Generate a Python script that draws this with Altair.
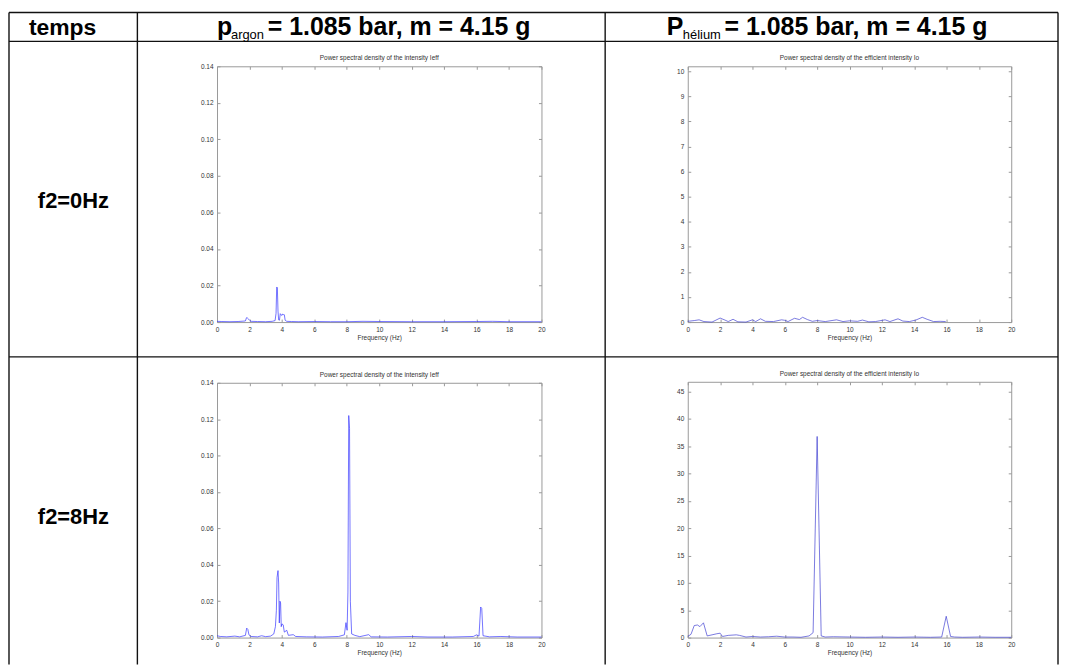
import altair as alt
import pandas as pd

# ------------------------------------------------------------------ data
# argon, f2 = 0 Hz
AR0_F = [0, 0.3, 0.8, 1.3, 1.75, 1.82, 1.88, 1.95, 2.02, 2.1, 2.5, 3.0, 3.4, 3.58, 3.64,
         3.68, 3.72, 3.76, 3.8, 3.85, 3.9, 3.95, 4.0, 4.05, 4.1, 4.15, 4.2, 4.3, 4.6, 5.0,
         6.0, 7.0, 8.0, 9.0, 10.0, 12.0, 14.0, 16.0, 17.0, 18.0, 20.0]
AR0_P = [0.0004, 0.0003, 0.0002, 0.0003, 0.0006, 0.0024, 0.0022, 0.0016, 0.0009, 0.0004,
         0.0003, 0.0002, 0.0004, 0.0008, 0.0048, 0.0192, 0.0188, 0.0060, 0.0012, 0.0010,
         0.0046, 0.0040, 0.0036, 0.0044, 0.0041, 0.0040, 0.0010, 0.0004, 0.0003, 0.0002,
         0.0003, 0.0002, 0.0002, 0.0004, 0.0003, 0.0002, 0.0002, 0.0003, 0.0004, 0.0002, 0.0002]

# argon, f2 = 8 Hz
AR8_F = [0, 0.2, 0.6, 1.1, 1.4, 1.75, 1.83, 1.9, 1.97, 2.1, 2.5, 2.75, 3.0, 3.3, 3.5, 3.6,
         3.66, 3.7, 3.76, 3.8, 3.84, 3.88, 3.92, 3.96, 4.0, 4.08, 4.15, 4.3, 4.4, 4.7, 4.85,
         5.5, 6.5, 7.5, 7.85, 7.95, 8.02, 8.07, 8.12, 8.17, 8.22, 8.3, 8.5, 8.8, 9.35, 9.5,
         10.5, 12.0, 13.0, 14.5, 15.8, 16.0, 16.15, 16.25, 16.32, 16.4, 16.8, 17.5, 18.5, 20.0]
AR8_P = [0.0010, 0.0006, 0.0004, 0.0008, 0.0004, 0.0012, 0.0052, 0.0045, 0.0015, 0.0006,
         0.0004, 0.0010, 0.0005, 0.0008, 0.0020, 0.0060, 0.0150, 0.0330, 0.0368, 0.0300,
         0.0080, 0.0200, 0.0190, 0.0060, 0.0075, 0.0070, 0.0030, 0.0040, 0.0012, 0.0016,
         0.0006, 0.0004, 0.0003, 0.0006, 0.0015, 0.0082, 0.0040, 0.0250, 0.1220, 0.1150,
         0.0200, 0.0020, 0.0012, 0.0005, 0.0016, 0.0004, 0.0003, 0.0006, 0.0003, 0.0003,
         0.0006, 0.0015, 0.0008, 0.0168, 0.0160, 0.0010, 0.0004, 0.0006, 0.0003, 0.0003]

# helium, f2 = 0 Hz
HE0_F = [0, 0.4, 0.7, 1.0, 1.5, 2.0, 2.3, 2.5, 2.8, 3.1, 3.6, 4.0, 4.2, 4.5, 4.8, 5.3, 5.8,
         6.0, 6.2, 6.6, 6.9, 7.1, 7.4, 7.7, 8.0, 8.5, 9.2, 9.6, 10.0, 10.5, 10.8, 11.2, 11.6,
         12.2, 12.5, 13.0, 13.3, 13.7, 14.1, 14.5, 14.8, 15.2, 15.6, 15.95]
HE0_P = [0.03, 0.06, 0.09, 0.02, 0.00, 0.16, 0.08, 0.02, 0.11, 0.01, 0.00, 0.09, 0.02, 0.13,
         0.03, 0.02, 0.09, 0.07, 0.02, 0.15, 0.10, 0.19, 0.10, 0.03, 0.06, 0.02, 0.09, 0.02,
         0.05, 0.03, 0.08, 0.01, 0.02, 0.09, 0.02, 0.13, 0.04, 0.02, 0.08, 0.19, 0.11, 0.02,
         0.03, 0.02]

# helium, f2 = 8 Hz
HE8_F = [0, 0.2, 0.4, 0.6, 0.75, 0.97, 1.2, 1.5, 1.8, 2.0, 2.15, 2.5, 3.0, 3.2, 3.6, 4.0,
         4.5, 5.0, 5.5, 6.0, 6.5, 7.0, 7.5, 7.75, 8.0, 8.25, 8.5, 9.0, 10.0, 11.0, 12.0, 13.0,
         14.0, 15.0, 15.7, 15.98, 16.25, 16.5, 17.0, 18.0, 19.0, 20.0]
HE8_P = [0.2, 0.6, 2.2, 2.3, 2.0, 2.7, 0.3, 0.5, 0.7, 0.8, 0.2, 0.4, 0.5, 0.4, 0.1, 0.2,
         0.1, 0.15, 0.25, 0.1, 0.1, 0.05, 0.3, 0.9, 36.8, 0.3, 0.1, 0.15, 0.1, 0.05, 0.1, 0.05,
         0.1, 0.05, 0.1, 3.9, 0.2, 0.1, 0.05, 0.1, 0.05, 0.05]

X_TICKS = [0, 2, 4, 6, 8, 10, 12, 14, 16, 18, 20]
AR_Y_TICKS = [0, 0.02, 0.04, 0.06, 0.08, 0.1, 0.12, 0.14]
HE0_Y_TICKS = [0, 1, 2, 3, 4, 5, 6, 7, 8, 9, 10]
HE8_Y_TICKS = [0, 5, 10, 15, 20, 25, 30, 35, 40, 45]

TITLE_AR = "Power spectral density of the intensity Ieff"
TITLE_HE = "Power spectral density of the efficient intensity Io"
HEADER_TEMPS = "temps"
HEADER_REST = "= 1.085 bar, m = 4.15 g"
ROW_LABELS = ["f2=0Hz", "f2=8Hz"]

# ------------------------------------------------------------------ layout
W, H = 1056, 658
FONT = "Liberation Sans"
SMALL = 6.5
GREY = "#999999"
LBL = "#333333"

AXC = dict(grid=False, labelFont=FONT, labelFontSize=SMALL, labelColor=LBL,
           domainColor=GREY, tickColor=GREY, domainWidth=1, tickWidth=1,
           labelFlush=False, labelOverlap=False)


def panel(f, p, ymax, yticks, box, title, color):
    x0, x1, y0, y1 = box
    df = pd.DataFrame({"f": f, "p": p})

    def xs():
        return alt.Scale(domain=[0, 20], range=[x0, x1], nice=False, zero=False)

    def ys():
        return alt.Scale(domain=[0, ymax], range=[y1, y0], nice=False, zero=False)

    base = alt.Chart(df)
    line = base.mark_line(color=color, strokeWidth=0.9, opacity=0.75).encode(
        x=alt.X("f:Q", scale=xs(),
                axis=alt.Axis(orient="bottom", offset=y1 - H, values=X_TICKS, ticks=False,
                              domain=False, labelPadding=4, title="Frequency (Hz)",
                              titleFont=FONT, titleFontSize=SMALL, titleFontWeight="normal",
                              titleColor=LBL, titlePadding=2, **AXC)),
        y=alt.Y("p:Q", scale=ys(),
                axis=alt.Axis(orient="left", offset=-x0, values=yticks, ticks=False,
                              domain=False, labelPadding=4, title=None, **AXC)),
    )
    box_a = base.mark_point(opacity=0).encode(
        x=alt.X("f:Q", scale=xs(),
                axis=alt.Axis(orient="bottom", offset=y0 - H, values=X_TICKS, labels=False,
                              tickSize=3, title=None, **AXC)),
        y=alt.Y("p:Q", scale=ys(),
                axis=alt.Axis(orient="left", offset=-x1, values=yticks, labels=False,
                              tickSize=3, title=None, **AXC)),
    )
    box_b = base.mark_point(opacity=0).encode(
        x=alt.X("f:Q", scale=xs(),
                axis=alt.Axis(orient="top", offset=-y1, values=X_TICKS, labels=False,
                              tickSize=3, title=None, **AXC)),
        y=alt.Y("p:Q", scale=ys(),
                axis=alt.Axis(orient="right", offset=x0 - W, values=yticks, labels=False,
                              tickSize=3, title=None, **AXC)),
    )
    ttl = alt.Chart(pd.DataFrame({"t": [title]})).mark_text(
        font=FONT, fontSize=SMALL, color=LBL, baseline="middle", align="center"
    ).encode(x=alt.value((x0 + x1) / 2), y=alt.value(y0 - 8), text="t:N")
    return [line, box_a, box_b, ttl]


# table grid
VX = [1, 130, 600, 1055]
HY = [3, 32, 349]
grid_rows = [{"x": x, "x2": x, "y": 3, "y2": H} for x in VX] + \
            [{"x": 1, "x2": 1055, "y": y, "y2": y} for y in HY]
grid = alt.Chart(pd.DataFrame(grid_rows)).mark_rule(color="#111111", strokeWidth=1.4).encode(
    x=alt.X("x:Q", scale=None), x2="x2:Q",
    y=alt.Y("y:Q", scale=None), y2="y2:Q",
)

bold_rows = [
    {"t": HEADER_TEMPS, "x": 21, "y": 26, "s": 23},
    {"t": "p", "x": 210, "y": 26, "s": 25},
    {"t": HEADER_REST, "x": 261, "y": 26, "s": 25},
    {"t": "P", "x": 662, "y": 26, "s": 25},
    {"t": HEADER_REST, "x": 720, "y": 26, "s": 25},
    {"t": ROW_LABELS[0], "x": 30, "y": 199, "s": 22},
    {"t": ROW_LABELS[1], "x": 30, "y": 517, "s": 22},
]
sub_rows = [
    {"t": "argon", "x": 224, "y": 30, "s": 13},
    {"t": "hélium", "x": 678, "y": 30, "s": 13},
]
texts = alt.Chart(pd.DataFrame(bold_rows)).mark_text(
    font=FONT, fontWeight="bold", color="#000000", align="left", baseline="alphabetic"
).encode(
    x=alt.X("x:Q", scale=None), y=alt.Y("y:Q", scale=None),
    size=alt.Size("s:Q", scale=None), text="t:N",
)
subs = alt.Chart(pd.DataFrame(sub_rows)).mark_text(
    font=FONT, fontWeight="normal", color="#000000", align="left", baseline="alphabetic"
).encode(
    x=alt.X("x:Q", scale=None), y=alt.Y("y:Q", scale=None),
    size=alt.Size("s:Q", scale=None), text="t:N",
)

BLUE = "#3030ff"
layers = [grid, texts, subs]
layers += panel(AR0_F, AR0_P, 0.14, AR_Y_TICKS, (210, 536, 57, 314), TITLE_AR, BLUE)
layers += panel(HE0_F, HE0_P, 10.2, HE0_Y_TICKS, (683, 1008, 57, 314), TITLE_HE, "#3a3ad0")
layers += panel(AR8_F, AR8_P, 0.14, AR_Y_TICKS, (210, 536, 375, 631), TITLE_AR, BLUE)
layers += panel(HE8_F, HE8_P, 46.8, HE8_Y_TICKS, (683, 1008, 374, 631), TITLE_HE, "#3a3ad0")

chart = alt.layer(*layers).resolve_scale(
    x="independent", y="independent", size="independent"
).resolve_axis(
    x="independent", y="independent"
).properties(
    width=W, height=H, padding=0,
    autosize=alt.AutoSizeParams(type="none"),
    background="white",
).configure_view(strokeWidth=0)

chart.save("out.html", embed_options={"renderer": "svg", "actions": False})
